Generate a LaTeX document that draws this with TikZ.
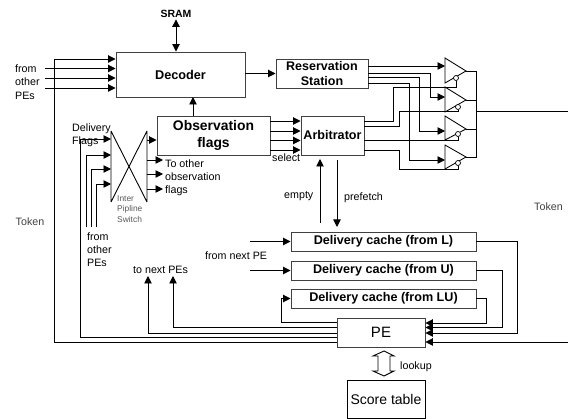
\documentclass[tikz,border=0pt]{standalone}
\usepackage{fontspec}
\setmainfont{Liberation Sans}
\usetikzlibrary{arrows.meta}
\newcommand{\fs}[2]{\fontsize{#1}{#2}\selectfont}
\tikzset{
  box/.style={draw=black!75,line width=.95pt,inner sep=0pt,align=center},
  lbl/.style={inner sep=0pt,anchor=west,align=left,font=\fs{10.7}{13.2}},
  wire/.style={line width=.95pt,draw=black},
  arr/.style={wire,-{Triangle[length=7.5pt,width=7.5pt]}},
  darr/.style={wire,{Triangle[length=7.5pt,width=7.5pt]}-{Triangle[length=7.5pt,width=7.5pt]}},
  tri/.style={draw=black,line width=.85pt},
  bub/.style={circle,draw=black,line width=.7pt,fill=white,inner sep=0pt,minimum size=5pt},
}
\begin{document}
\begin{tikzpicture}[x=1pt,y=-1pt]
\useasboundingbox (0,0) rectangle (568,419);
% boxes
\node[box,minimum width=129pt,minimum height=45pt,font=\fs{12.7}{15}\bfseries] (dec) at (180.5,74.5) {Decoder};
\node[box,minimum width=92pt,minimum height=29pt,font=\fs{12.5}{15}\bfseries] (res) at (322,73.5) {Reservation\\Station};
\node[box,minimum width=113pt,minimum height=39pt,font=\fs{13.9}{17}\bfseries] (obs) at (213.5,135.5) {Observation\\flags};
\node[box,minimum width=63pt,minimum height=39pt,font=\fs{12.6}{15}\bfseries] (arb) at (332.5,135.5) {Arbitrator};
\node[box,minimum width=185pt,minimum height=19pt,font=\fs{12.6}{15}\bfseries] (cl) at (383.5,241.5) {Delivery cache (from L)};
\node[box,minimum width=185pt,minimum height=19pt,font=\fs{12.6}{15}\bfseries] (cu) at (383.5,270.5) {Delivery cache (from U)};
\node[box,minimum width=185pt,minimum height=19pt,font=\fs{12.6}{15}\bfseries] (clu) at (383.5,298.5) {Delivery cache (from LU)};
\node[box,minimum width=88pt,minimum height=29pt,font=\fs{15}{18}] (pe) at (381,332.5) {PE};
\node[box,draw=black,line width=.8pt,minimum width=78pt,minimum height=38pt,font=\fs{14}{17}] (sc) at (386,399) {Score table};
% labels
\node[inner sep=0pt,font=\fs{10.5}{13}\bfseries] (sram) at (176,13.5) {SRAM};
\node[lbl] (fo1) at (15,82) {from\\other\\PEs};
\node[lbl] (dfl) at (72,135.5) {Delivery\\Flags};
\node[lbl] (too) at (165,178) {To other\\observation\\flags};
\node[lbl] (sel) at (272,158) {select};
\node[lbl,font=\fs{8.4}{10.6},text=black!65] (ips) at (117,209) {Inter\\Pipline\\Switch};
\node[lbl] (fo2) at (87,249.5) {from\\other\\PEs};
\node[lbl,text=black!75] (tk1) at (15.5,222) {Token};
\node[lbl,text=black!75] (tk2) at (534,207) {Token};
\node[lbl] (emp) at (284,196) {empty};
\node[lbl] (pre) at (344,198) {prefetch};
\node[lbl] (fnp) at (205,256) {from next PE};
\node[lbl] (tnp) at (133,270) {to next PEs};
\node[lbl] (lku) at (400,367) {lookup};
% SRAM, decoder
\draw[darr] ([yshift=-2pt]sram.south) -- (sram.south |- dec.north);
\draw[arr] (54.5,59) -- (dec.west |- 0,59);
\draw[arr] (45,68.5) -- (dec.west |- 0,68.5);
\draw[arr] (45,78) -- (dec.west |- 0,78);
\draw[arr] (45,88) -- (dec.west |- 0,88);
\draw[arr] (dec.east |- res.west) -- (res.west);
\draw[arr] (193,116) -- (193,97);
% outer token loops
\draw[wire] (54.5,59) |- (pe.west |- 0,342);
\draw[arr] (568,342) -- (pe.east |- 0,342);
% crossbar
\coordinate (xa) at (111,131); \coordinate (xb) at (111,202);
\coordinate (xc) at (147,131); \coordinate (xd) at (147,202);
\draw[wire,line width=.9pt] (xa) -- (xb) (xc) -- (xd) (xa) -- (xd) (xc) -- (xb);
\draw[arr] (80,337) |- (xa |- 0,139);
\draw[wire] (80,337) -- (pe.west |- 0,337);
\draw[arr] (86,227) |- (xa |- 0,155);
\draw[arr] (91,227) |- (xa |- 0,169);
\draw[arr] (96,227) |- (xa |- 0,184);
\draw[arr] (xc |- 0,140) -- (obs.west |- 0,140);
\draw[arr] (xc |- 0,160) -- (163,160);
\draw[arr] (xc |- 0,174) -- (163,174);
\draw[arr] (xc |- 0,189) -- (163,189);
% obs to arbitrator
\foreach \yy in {121,131,140.5,150} {\draw[arr] (obs.east |- 0,\yy) -- (arb.west |- 0,\yy);}
% muxes
\foreach \i/\a/\c/\b in {1/58/71/83, 2/87/100/112, 3/116/129/140, 4/145/157/169} {
  \coordinate (t\i) at (466,\c);
  \draw[tri] (445,\a) -- (t\i) -- (445,\b) -- cycle;
}
\node[bub] (b1) at (456,78) {};
\node[bub] (b2) at (458,107) {};
\node[bub] (b3) at (458,134) {};
\node[bub] (b4) at (458,163) {};
% reservation to muxes
\draw[arr] (res.east |- 0,66) -- (445,66);
\draw[arr] (res.east |- 0,73) -| (430,97) -- (445,97);
\draw[arr] (res.east |- 0,77.5) -| (419,131) -- (445,131);
\draw[arr] (res.east |- 0,83) -| (409,160) -- (445,160);
% arbitrator to mux enables
\draw[wire] (arb.east |- 0,121) -| (393,87) -| (b1.south);
\draw[wire] (arb.east |- 0,126) -| (399,111) -| (b2.south);
\draw[wire] (arb.east |- 0,140) -| (b3.south);
\draw[wire] (arb.east |- 0,150) -| (399,169) -| (b4.south);
% bus
\draw[wire] (t1) -| (476,157) -- (t4);
\draw[wire] (t2) -- (476,100);
\draw[wire] (t3) -- (476,129);
\draw[wire] (476,111) -- (568,111);
% empty, prefetch
\draw[arr] (320,223) -- (320,159);
\draw[arr] (337,160) -- (337,227);
% caches
\draw[arr] (250,241.5) -- (cl.west);
\draw[arr] (250,270.5) -- (cu.west);
\draw[arr] (pe.west |- 0,322) -| (281,298.5) -- (clu.west);
\draw[arr] (cl.east) -| (517,333) -- (pe.east |- 0,333);
\draw[arr] (cu.east) -| (502,327.5) -- (pe.east |- 0,327.5);
\draw[arr] (clu.east) -| (486,323) -- (pe.east |- 0,323);
% to next PEs
\draw[arr] (pe.west |- 0,327.5) -| (173,276);
\draw[arr] (pe.west |- 0,333) -| (148,276);
% lookup hollow double arrow
\draw[line width=.9pt,draw=black,fill=white] (384,351) -- (394,356) -- (390,356) -- (390,371) -- (394,371) -- (384,376) -- (373,371) -- (378,371) -- (378,356) -- (373,356) -- cycle;
\end{tikzpicture}
\end{document}
